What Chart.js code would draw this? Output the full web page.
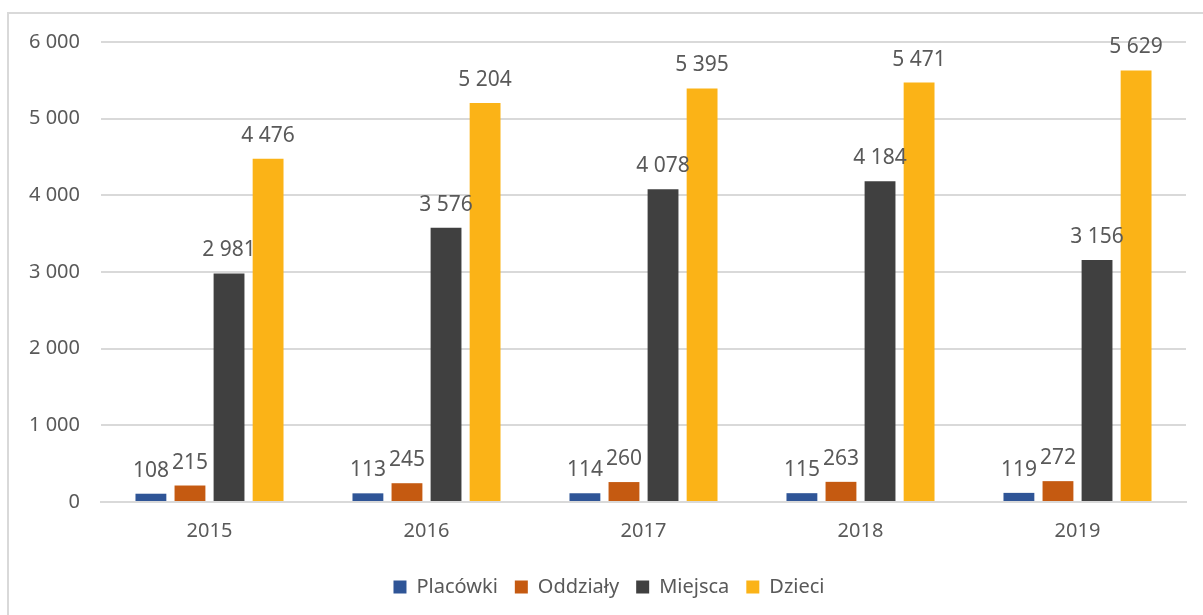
<!DOCTYPE html>
<html>
<head>
<meta charset="utf-8">
<script src="https://cdn.jsdelivr.net/npm/chart.js@4.4.1/dist/chart.umd.min.js"></script>
<style>
  html, body { margin: 0; padding: 0; background: #fff; overflow: hidden; }
  #frame { position: absolute; left: 7px; top: 12px; width: 1220px; height: 640px; border: 2px solid #d9d9d9; box-sizing: border-box; }
  #wrap { position: absolute; left: 0; top: 0; width: 1203px; height: 615px; }
</style>
</head>
<body>
<div id="frame"></div>
<div id="wrap"><canvas id="chart" width="1203" height="615"></canvas></div>
<script>
var years = ["2015", "2016", "2017", "2018", "2019"];
var placowki = [108, 113, 114, 115, 119];
var oddzialy = [215, 245, 260, 263, 272];
var miejsca = [2981, 3576, 4078, 4184, 3156];
var dzieci = [4476, 5204, 5395, 5471, 5629];
var yTicks = [0, 1000, 2000, 3000, 4000, 5000, 6000];

var FONT = "'Noto Sans', sans-serif";
var TXT = "#595959";

function fmt(v) {
  return String(v).replace(/\B(?=(\d{3})+(?!\d))/g, " ");
}

// draw values above the bars
var valueLabels = {
  id: "valueLabels",
  afterDatasetsDraw: function(chart) {
    var ctx = chart.ctx;
    ctx.save();
    ctx.font = "21px " + FONT;
    ctx.fillStyle = TXT;
    ctx.textAlign = "center";
    ctx.textBaseline = "alphabetic";
    chart.data.datasets.forEach(function(ds, i) {
      var meta = chart.getDatasetMeta(i);
      meta.data.forEach(function(bar, j) {
        ctx.fillText(fmt(ds.data[j]), bar.x, bar.y - 17);
      });
    });
    ctx.restore();
  }
};

// legend sits a bit right of centre in the original
var legendShift = {
  id: "legendShift",
  afterLayout: function(chart) {
    if (chart.legend) {
      chart.legend.left += 16;
      chart.legend.right += 16;
    }
  }
};

var ctx = document.getElementById("chart").getContext("2d");
var myChart = new Chart(ctx, {
  type: "bar",
  data: {
    labels: years,
    datasets: [
      { label: "Placówki", data: placowki, backgroundColor: "#2F5597" },
      { label: "Oddziały", data: oddzialy, backgroundColor: "#C55A11" },
      { label: "Miejsca", data: miejsca, backgroundColor: "#404040" },
      { label: "Dzieci", data: dzieci, backgroundColor: "#FBB317" }
    ]
  },
  options: {
    responsive: false,
    animation: false,
    layout: { padding: { top: 42, right: 17, left: 0, bottom: 8 } },
    datasets: { bar: { categoryPercentage: 0.72, barPercentage: 0.79 } },
    plugins: {
      legend: {
        position: "bottom",
        labels: {
          boxWidth: 13,
          boxHeight: 13,
          padding: 17,
          color: TXT,
          font: { family: FONT, size: 20 }
        }
      },
      tooltip: { enabled: false }
    },
    scales: {
      x: {
        grid: { display: false, drawTicks: false },
        border: { color: "#d9d9d9", width: 2 },
        ticks: { color: TXT, font: { family: FONT, size: 20 }, padding: 17 }
      },
      y: {
        min: 0,
        max: 6000,
        afterFit: function(scale) { scale.width = 101; },
        afterBuildTicks: function(scale) {
          scale.ticks = yTicks.map(function(v) { return { value: v }; });
        },
        grid: { color: "#d9d9d9", lineWidth: 2, drawTicks: false },
        border: { display: false },
        ticks: {
          color: TXT,
          font: { family: FONT, size: 20 },
          padding: 21,
          callback: function(v) { return fmt(v); }
        }
      }
    }
  },
  plugins: [valueLabels, legendShift]
});
</script>
</body>
</html>
